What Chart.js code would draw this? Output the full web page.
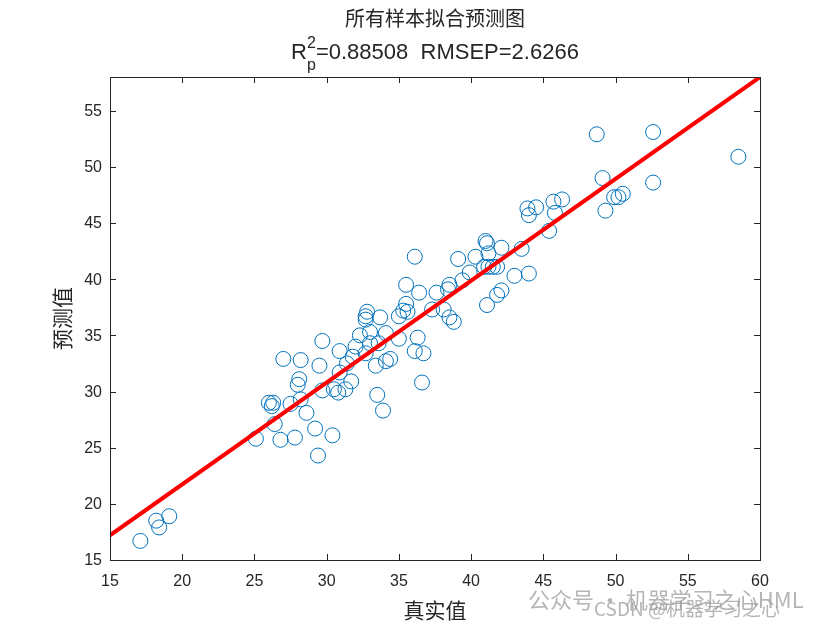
<!DOCTYPE html>
<html>
<head>
<meta charset="utf-8">
<script src="https://cdn.jsdelivr.net/npm/chart.js@4"></script>
<style>
  html, body { margin: 0; padding: 0; background: #fff; }
  #wrap { width: 840px; height: 630px; }
</style>
</head>
<body>
<div id="wrap"><canvas id="Fit"></canvas></div>
<script>
const realVals = [17.1, 18.2, 18.4, 19.1, 25.1, 26.0, 26.3, 26.2, 26.4, 26.8,
    27.0, 27.5, 27.8, 28.0, 28.1, 28.2, 28.2, 28.6, 29.2, 29.4,
    29.5, 29.7, 29.7, 30.4, 30.5, 30.8, 30.9, 30.9, 31.3, 31.4,
    31.7, 31.8, 32.0, 32.3, 32.7, 32.8, 32.7, 32.7, 33.0, 33.0,
    33.4, 33.5, 33.6, 33.7, 33.9, 34.1, 34.1, 34.4, 35.0, 35.0,
    35.3, 35.6, 35.5, 35.5, 36.1, 36.1, 36.3, 36.4, 36.6, 36.7,
    37.3, 37.6, 38.1, 38.4, 38.5, 38.5, 38.8, 39.1, 39.4, 39.9,
    40.3, 40.9, 41.2, 41.5, 41.8, 41.0, 41.1, 41.2, 42.1, 41.1,
    41.8, 42.1, 43.0, 43.5, 44.0, 43.9, 44.0, 44.5, 45.4, 45.7,
    45.8, 46.3, 48.7, 49.1, 49.3, 49.9, 50.2, 50.5, 52.6, 52.6,
    58.5];
const predVals = [16.7, 18.5, 17.9, 18.9, 25.8, 29.0, 29.0, 28.7, 27.1, 25.7,
    32.9, 28.9, 25.9, 30.6, 31.1, 32.8, 29.3, 28.1, 26.7, 24.3,
    32.3, 34.5, 30.1, 26.1, 30.2, 29.9, 31.7, 33.6, 30.2, 32.5,
    30.9, 33.1, 34.0, 35.0, 33.4, 37.1, 36.7, 36.4, 35.3, 34.3,
    32.3, 29.7, 34.3, 36.6, 28.3, 35.2, 32.7, 32.9, 36.7, 34.7,
    37.2, 37.1, 37.8, 39.5, 42.0, 33.6, 34.8, 38.8, 30.8, 33.4,
    37.3, 38.8, 37.3, 39.1, 39.5, 36.6, 36.2, 41.8, 39.9, 40.6,
    42.0, 41.1, 41.1, 41.1, 41.1, 43.4, 43.2, 42.3, 42.8, 37.7,
    38.6, 39.0, 40.3, 42.7, 40.5, 46.3, 45.7, 46.4, 44.3, 46.9,
    45.9, 47.1, 52.9, 49.0, 46.1, 47.3, 47.3, 47.6, 53.1, 48.6,
    50.9];
// fitted line end points
const fitX = [15, 60];
const fitY = [17.2, 58.0];
const xTicks = [15, 20, 25, 30, 35, 40, 45, 50, 55, 60];
const yTicks = [15, 20, 25, 30, 35, 40, 45, 50, 55];

const titleText = '所有样本拟合预测图';
const r2Text = '=0.88508  RMSEP=2.6266';
const xLabel = '真实值';
const yLabel = '预测值';

const axisColor = '#262626';
const tickFont = '16px "Liberation Sans", Arial, sans-serif';
const cjkFont = '"Noto Sans CJK SC", sans-serif';

// box round the plot, inward ticks on all four sides, titles
const matlabAxes = {
    id: 'matlabAxes',
    afterDraw(chart) {
        const c = chart.ctx, a = chart.chartArea;
        const xs = chart.scales.x, ys = chart.scales.y;
        c.save();
        c.strokeStyle = axisColor;
        c.lineWidth = 1;
        c.strokeRect(a.left + 0.5, a.top + 0.5, a.right - a.left, a.bottom - a.top);
        c.beginPath();
        xTicks.forEach(v => {
            const px = Math.round(xs.getPixelForValue(v)) + 0.5;
            c.moveTo(px, a.bottom); c.lineTo(px, a.bottom - 6);
            c.moveTo(px, a.top); c.lineTo(px, a.top + 6);
        });
        yTicks.forEach(v => {
            const py = Math.round(ys.getPixelForValue(v)) + 0.5;
            c.moveTo(a.left, py); c.lineTo(a.left + 6, py);
            c.moveTo(a.right, py); c.lineTo(a.right - 6, py);
        });
        c.stroke();

        // tick labels
        c.fillStyle = axisColor;
        c.font = tickFont;
        c.textAlign = 'center';
        c.textBaseline = 'top';
        xTicks.forEach(v => c.fillText(String(v), xs.getPixelForValue(v), a.bottom + 14));
        c.textAlign = 'right';
        c.textBaseline = 'middle';
        yTicks.forEach(v => c.fillText(String(v), a.left - 8, ys.getPixelForValue(v) + 1));

        // axis titles
        c.font = '21px ' + cjkFont;
        c.textAlign = 'center';
        c.textBaseline = 'middle';
        c.fillText(xLabel, (a.left + a.right) / 2, 610);
        c.save();
        c.translate(62, (a.top + a.bottom) / 2);
        c.rotate(-Math.PI / 2);
        c.fillText(yLabel, 0, 0);
        c.restore();

        // title, two lines
        const cx = (a.left + a.right) / 2;
        c.font = '20px ' + cjkFont;
        c.fillText(titleText, cx, 18);
        c.font = '22px "Liberation Sans", Arial, sans-serif';
        const wR = c.measureText('R').width;
        const wRest = c.measureText(r2Text).width;
        c.font = '16px "Liberation Sans", Arial, sans-serif';
        const wSup = c.measureText('2').width;
        const total = wR + wSup + wRest;
        let x0 = cx - total / 2;
        c.textAlign = 'left';
        c.textBaseline = 'alphabetic';
        c.font = '22px "Liberation Sans", Arial, sans-serif';
        c.fillText('R', x0, 59);
        c.font = '16px "Liberation Sans", Arial, sans-serif';
        c.fillText('2', x0 + wR, 48);
        c.fillText('p', x0 + wR, 70);
        c.font = '22px "Liberation Sans", Arial, sans-serif';
        c.fillText(r2Text, x0 + wR + wSup, 59);

        // watermark
        c.fillStyle = 'rgba(150,150,150,0.7)';
        c.font = '22px ' + cjkFont;
        c.fillText('公众号 · 机器学习之心HML', 528, 608);
        c.font = '19px ' + cjkFont;
        c.fillText('CSDN @机器学习之心', 594, 616);
        c.restore();
    }
};

const gtx = document.getElementById('Fit').getContext('2d');
const Fit = new Chart(gtx, {
    type: 'scatter',
    data: {
        datasets: [{
            type: 'line',
            data: fitX.map((x, i) => ({x: x, y: fitY[i]})),
            borderColor: '#ff0000',
            borderWidth: 4,
            pointRadius: 0,
            fill: false
        }, {
            data: realVals.map((x, i) => ({x: x, y: predVals[i]})),
            pointStyle: 'circle',
            pointRadius: 7.5,
            pointBorderWidth: 1,
            borderColor: '#0072bd',
            backgroundColor: 'rgba(0,0,0,0)'
        }]
    },
    options: {
        responsive: true,
        maintainAspectRatio: false,
        animation: false,
        layout: { padding: { top: 77, right: 80, bottom: 0, left: 0 } },
        plugins: { legend: { display: false }, tooltip: { enabled: false } },
        scales: {
            x: {
                type: 'linear', min: 15, max: 60,
                grid: { display: false }, border: { display: false },
                ticks: { display: false },
                afterFit(s) { s.height = 70; }
            },
            y: {
                type: 'linear', min: 15, max: 58,
                grid: { display: false }, border: { display: false },
                ticks: { display: false },
                afterFit(s) { s.width = 110; }
            }
        }
    },
    plugins: [matlabAxes]
});
</script>
</body>
</html>
